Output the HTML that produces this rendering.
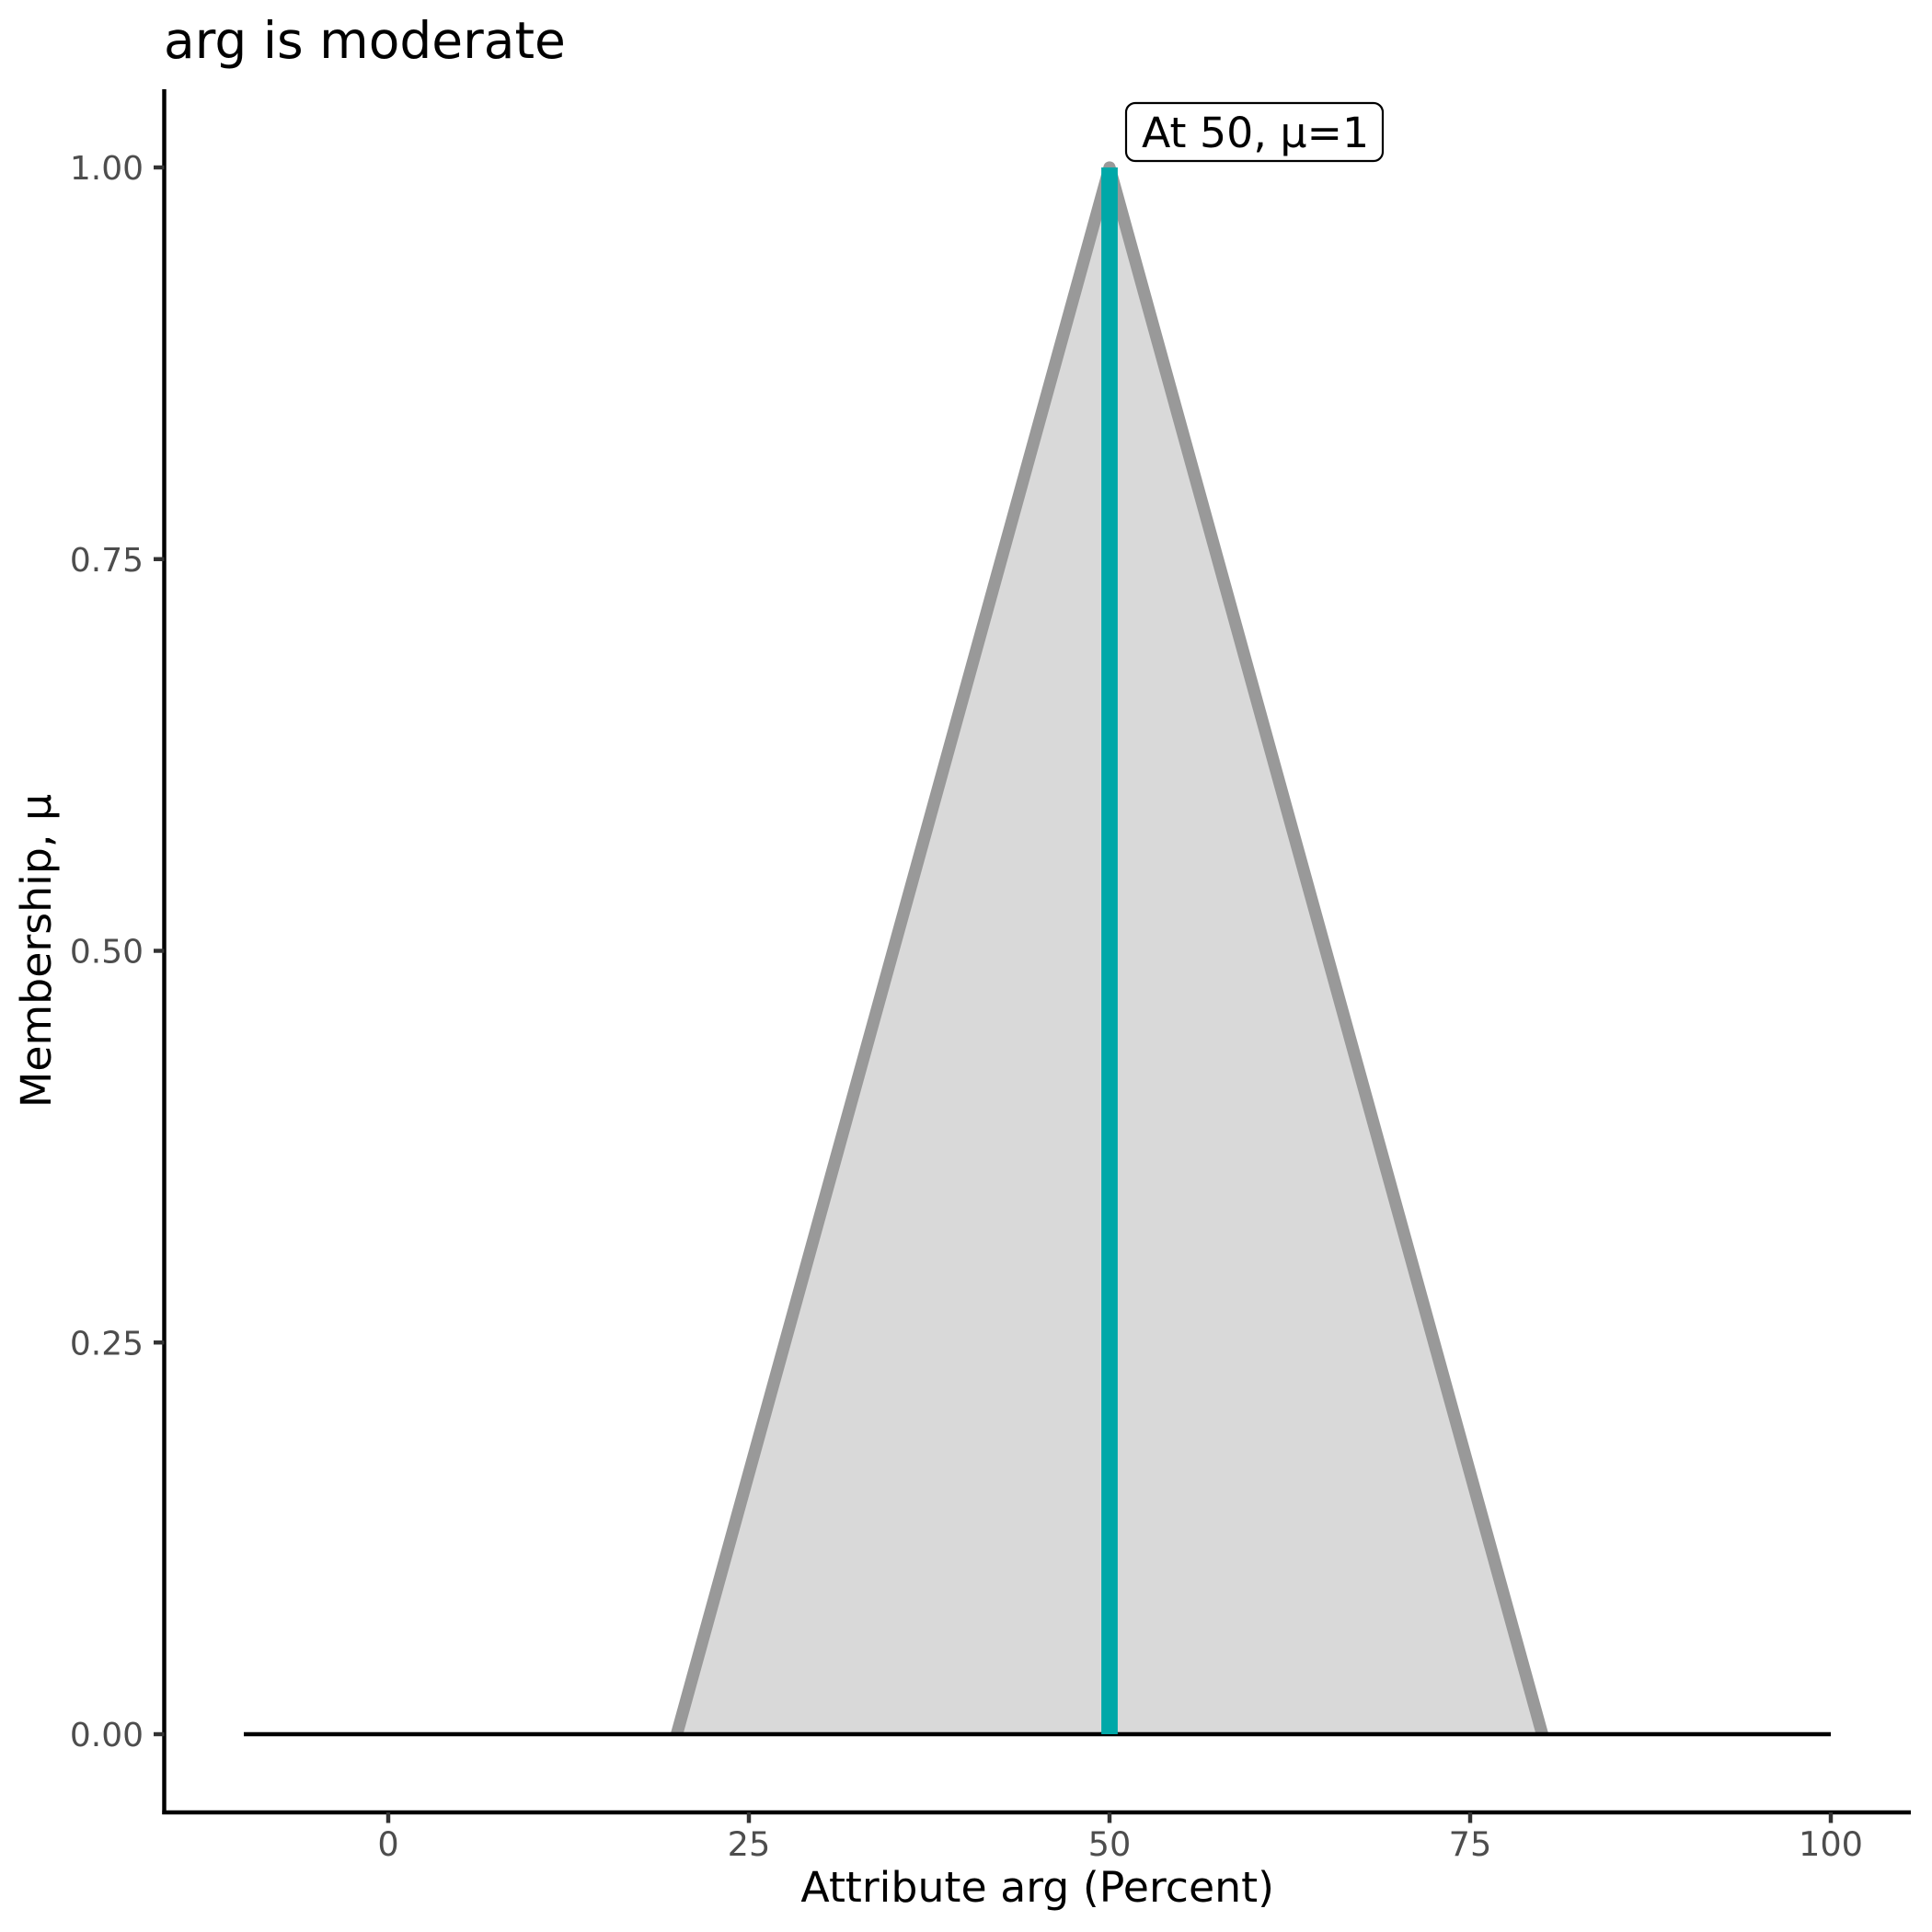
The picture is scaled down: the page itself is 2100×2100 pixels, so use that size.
<!DOCTYPE html>
<html>
<head>
<meta charset="utf-8">
<style>
html,body{margin:0;padding:0;background:#fff;}
svg{display:block;}
text{font-family:"DejaVu Sans","Liberation Sans",sans-serif;}
</style>
</head>
<body>
<svg width="2100" height="2100" viewBox="0 0 2100 2100" xmlns="http://www.w3.org/2000/svg">
<rect x="0" y="0" width="2100" height="2100" fill="#ffffff"/>
<defs>
<clipPath id="pc"><rect x="178.5" y="97" width="1898.5" height="1788"/></clipPath>
</defs>

<!-- title -->
<text x="178" y="63" font-size="55" fill="#000">arg is moderate</text>

<!-- filled triangle -->
<polygon points="735.6,1885 1206,182 1676.4,1885" fill="#D9D9D9"/>
<!-- grey outline -->
<g clip-path="url(#pc)">
<polyline points="730.1,1905 1206,182 1681.9,1905" fill="none" stroke="#999999" stroke-width="13.3" stroke-linejoin="round" stroke-linecap="round"/>
</g>

<!-- baseline -->
<line x1="265" y1="1885" x2="1990" y2="1885" stroke="#000" stroke-width="4.45"/>

<!-- teal segment -->
<line x1="1206" y1="182" x2="1206" y2="1885" stroke="#00A8A8" stroke-width="17.8" stroke-linecap="butt"/>

<!-- label -->
<rect x="1224" y="112" width="279" height="63" rx="10" ry="10" fill="#fff" stroke="#000" stroke-width="2.2"/>
<text x="1241" y="160" font-size="45.8" fill="#000">At 50, μ=1</text>

<!-- axes -->
<line x1="178.5" y1="97" x2="178.5" y2="1972" stroke="#000" stroke-width="4.45"/>
<line x1="176.3" y1="1970" x2="2077" y2="1970" stroke="#000" stroke-width="4.45"/>

<!-- y ticks -->
<g stroke="#333333" stroke-width="4.45">
<line x1="167" y1="182" x2="178.5" y2="182"/>
<line x1="167" y1="607.75" x2="178.5" y2="607.75"/>
<line x1="167" y1="1033.5" x2="178.5" y2="1033.5"/>
<line x1="167" y1="1459.25" x2="178.5" y2="1459.25"/>
<line x1="167" y1="1885" x2="178.5" y2="1885"/>
</g>
<g font-size="36" fill="#4D4D4D" text-anchor="end">
<text x="156" y="195">1.00</text>
<text x="156" y="620.75">0.75</text>
<text x="156" y="1046.5">0.50</text>
<text x="156" y="1472.25">0.25</text>
<text x="156" y="1898">0.00</text>
</g>

<!-- x ticks -->
<g stroke="#333333" stroke-width="4.45">
<line x1="422" y1="1970" x2="422" y2="1981.5"/>
<line x1="814" y1="1970" x2="814" y2="1981.5"/>
<line x1="1206" y1="1970" x2="1206" y2="1981.5"/>
<line x1="1598" y1="1970" x2="1598" y2="1981.5"/>
<line x1="1990" y1="1970" x2="1990" y2="1981.5"/>
</g>
<g font-size="36.7" fill="#4D4D4D" text-anchor="middle">
<text x="422" y="2017">0</text>
<text x="814" y="2017">25</text>
<text x="1206" y="2017">50</text>
<text x="1598" y="2017">75</text>
<text x="1990" y="2017">100</text>
</g>

<!-- axis titles -->
<text x="1127.7" y="2067" font-size="45.8" fill="#000" text-anchor="middle">Attribute arg (Percent)</text>
<text transform="translate(55,1033.5) rotate(-90)" font-size="45.8" fill="#000" text-anchor="middle">Membership, μ</text>
</svg>
</body>
</html>
